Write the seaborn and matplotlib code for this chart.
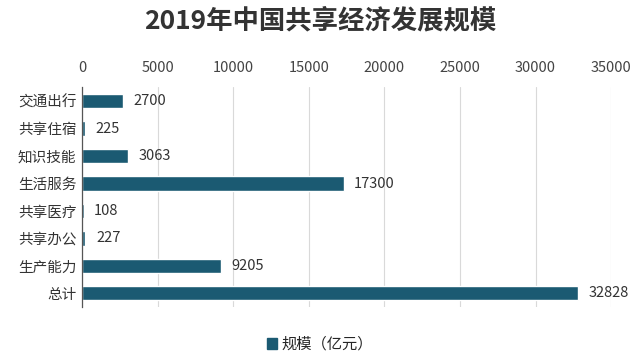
import matplotlib
matplotlib.use('Agg')
import matplotlib.pyplot as plt
import matplotlib.patches as mpatches
import pandas as pd
import seaborn as sns

categories = ['交通出行', '共享住宿', '知识技能', '生活服务', '共享医疗', '共享办公', '生产能力', '总计']
values = [2700, 225, 3063, 17300, 108, 227, 9205, 32828]
xticks = [0, 5000, 10000, 15000, 20000, 25000, 30000, 35000]
series_name = '规模（亿元）'

sns.set_style('white')
plt.rcParams['font.family'] = ['Noto Sans CJK SC', 'DejaVu Sans']

df = pd.DataFrame({'类别': categories, '规模': values})
bar_color = '#1b5a72'

fig = plt.figure(figsize=(6.4, 3.57), dpi=100)
ax = fig.add_axes([0.128, 0.14, 0.827, 0.615])

sns.barplot(data=df, x='规模', y='类别', orient='h', color=bar_color,
            width=0.52, saturation=1, ax=ax)

ax.set_xlim(0, 35000)
ax.set_xticks(xticks)
ax.xaxis.tick_top()
ax.tick_params(axis='x', length=0, labelsize=10.5, colors='#444444', pad=9)
ax.tick_params(axis='y', length=0, labelsize=10.5, colors='#333333', pad=4)
ax.grid(axis='x', color='#d9d9d9', linewidth=0.8)
ax.set_axisbelow(True)
ax.set_xlabel('')
ax.set_ylabel('')
for s in ['top', 'right', 'bottom']:
    ax.spines[s].set_visible(False)
ax.spines['left'].set_color('#555555')
ax.spines['left'].set_linewidth(0.9)

for i, v in enumerate(values):
    ax.text(v + 700, i, str(v), va='center', ha='left', fontsize=10.5, color='#333333')

fig.suptitle('2019年中国共享经济发展规模', fontsize=19, fontweight='bold',
             color='#333333', y=0.98)

handle = mpatches.Patch(color=bar_color, label=series_name)
fig.legend(handles=[handle], loc='center', bbox_to_anchor=(0.5, 0.035),
           frameon=False, fontsize=11, handlelength=0.7, handleheight=0.7,
           handletextpad=0.3)

fig.savefig('out.png', dpi=100)
